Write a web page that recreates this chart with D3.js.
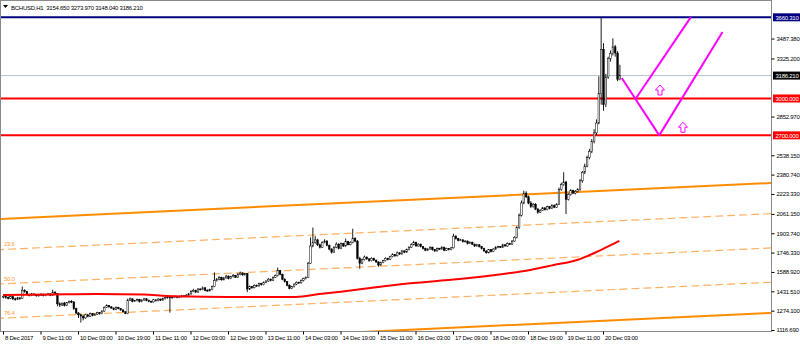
<!DOCTYPE html>
<html>
<head>
<meta charset="utf-8">
<script src="https://cdn.jsdelivr.net/npm/d3@7"></script>
<style>
  body { margin: 0; background: #fff; }
  svg { display: block; font-family: "Liberation Sans", Arial, sans-serif; }
  svg text { letter-spacing: -0.25px; }
</style>
</head>
<body>
<svg id="chart" width="800" height="344"></svg>
<script>
// BCHUSD H1 candles, bar 0 = 8 Dec 19:00 (open of each bar = previous close)
const symbol = 'BCHUSD,H1';
const firstOpen = 1385;
const closes = [1390,1382,1375,1388,1370,1365,1378,1372,
  1440,1430,
  1405,1398,1410,1402,1395,1400,1408,1398,1404,1410,1400,
  1425,1415,
  1330,1320,1335,1318,1340,1350,1345,
  1290,1255,1240,1230,
  1215,1240,1228,1250,1235,1245,1258,1250,
  1270,1300,1315,1305,1295,1285,1300,1290,1280,1265,1250,
  1360,1370,1350,1355,1365,1348,1360,1370,1358,1350,1345,1362,1355,1368,1360,1372,1380,
  1385,1378,1384,1390,1382,1388,1395,1392,1400,
  1410,1430,1440,1425,1450,1445,1460,1440,1435,1445,1470,
  1520,1530,1545,1525,1540,1555,1535,1550,1560,1545,1570,1580,1565,1575,
  1450,1470,1460,1480,1475,1495,1485,1505,1515,
  1530,1520,1545,1560,1600,1570,
  1530,1510,1480,1455,1470,
  1490,1505,1500,1520,1535,1545,
  1660,1800,1830,
  1850,1810,1790,1830,1840,1805,1775,
  1750,1790,1815,1780,1820,1800,1835,1810,1830,
  1860,1840,1700,1660,
  1690,1710,1695,1680,1700,1685,1670,1645,1665,
  1680,1700,1690,1715,1730,1720,1745,1735,1760,1750,1770,
  1790,1810,1830,1800,1815,1795,
  1780,1765,1775,1790,1770,1760,1780,1775,1790,1765,1780,1770,1785,
  1880,
  1860,1845,1850,1835,1840,1820,1830,1815,1800,1810,1795,
  1780,1760,1745,1770,1755,1775,1790,
  1795,1790,1810,1800,1820,1815,1840,1870,
  1950,2050,2150,2230,
  2200,2150,2120,2140,2100,2075,2090,2110,2095,2120,2105,2130,2115,2140,
  2260,2300,2320,
  2180,
  2220,2250,2230,2245,2260,
  2330,2400,2450,2520,2570,
  2650,2720,2800,
  3040,3400,2950,3174,3326,3367,3420,3370,3154.65,3186.21];
const highs = [1402,1396,1390,1398,1392,1380,1386,1385,
  1470,1448,
  1435,1412,1418,1415,1408,1410,1415,1412,1410,1418,1414,
  1445,1432,
  1418,1342,1340,1345,1345,1356,1360,
  1350,1298,1262,1250,
  1238,1248,1245,1258,1255,1252,1265,1262,
  1278,1308,1325,1320,1310,1300,1308,1305,1295,1285,1270,
  1372,1380,1375,1362,1372,1370,1366,1378,1376,1364,1356,1370,1366,1375,1372,1380,1388,
  1392,1390,1392,1398,1394,1395,1402,1400,1408,
  1418,1440,1452,1445,1458,1456,1470,1465,1448,1452,1478,
  1585,1540,1555,1550,1548,1565,1560,1558,1572,1565,1580,1592,1585,1582,
  1580,1478,1475,1488,1486,1502,1500,1512,1522,
  1540,1536,1552,1568,1625,1605,
  1575,1538,1515,1488,1476,
  1496,1512,1510,1528,1542,1552,
  1670,1870,1950,
  1880,1858,1820,1838,1855,1848,1812,
  1782,1798,1830,1822,1828,1826,1860,1842,1838,
  1940,1872,1848,1712,
  1698,1722,1715,1702,1708,1705,1690,1675,1672,
  1688,1708,1705,1722,1740,1735,1755,1750,1768,1765,1778,
  1798,1822,1842,1835,1822,1820,
  1800,1786,1782,1798,1795,1776,1788,1785,1798,1795,1786,1784,1792,
  1900,
  1888,1866,1858,1855,1848,1845,1838,1835,1820,1818,1815,
  1800,1786,1765,1776,1775,1782,1798,
  1802,1800,1818,1815,1828,1825,1848,1878,
  1960,2065,2170,2250,
  2245,2210,2165,2150,2148,2110,2100,2118,2115,2128,2125,2140,2138,2148,
  2275,2315,2400,
  2330,
  2230,2262,2258,2255,2270,
  2345,2410,2470,2535,2590,
  2670,2750,2830,
  3180,3660.31,3450,3200,3340,3390,3489,3435,3385,3273.97];
const lows = [1375,1370,1365,1368,1360,1355,1360,1362,
  1368,1420,
  1398,1390,1392,1396,1388,1390,1395,1390,1392,1398,1392,
  1396,1405,
  1310,1305,1312,1308,1312,1332,1335,
  1280,1245,1215,1177,
  1195,1208,1220,1222,1228,1230,1240,1242,
  1245,1265,1295,1298,1290,1278,1280,1285,1272,1260,1245,
  1245,1352,1342,1345,1350,1340,1342,1355,1350,1342,1338,1340,1348,1350,1352,1355,1365,
  1372,1258,1372,1380,1375,1376,1382,1385,1388,
  1395,1405,1425,1418,1420,1438,1440,1432,1428,1430,1440,
  1465,1510,1522,1518,1520,1535,1528,1530,1545,1540,1540,1562,1558,1560,
  1425,1442,1452,1455,1468,1470,1478,1480,1498,
  1508,1512,1515,1540,1552,1562,
  1522,1502,1472,1448,1450,
  1462,1482,1492,1495,1512,1528,
  1540,1655,1790,
  1820,1800,1780,1785,1822,1798,1765,
  1738,1745,1782,1772,1775,1792,1795,1805,1805,
  1822,1830,1690,1615,
  1652,1682,1688,1672,1675,1678,1662,1632,1640,
  1660,1675,1682,1685,1708,1712,1715,1728,1730,1742,1745,
  1765,1785,1805,1795,1795,1788,
  1772,1758,1760,1770,1762,1752,1755,1768,1770,1758,1760,1764,1765,
  1780,
  1852,1838,1840,1828,1830,1812,1815,1808,1792,1795,1788,
  1772,1752,1737,1740,1748,1750,1770,
  1782,1784,1785,1795,1795,1808,1810,1835,
  1862,1940,2040,2140,
  2190,2140,2110,2112,2092,2063,2068,2085,2088,2090,2098,2100,2108,2110,
  2135,2250,2290,
  2060,
  2170,2210,2222,2220,2235,
  2250,2315,2385,2440,2505,
  2555,2635,2700,
  2790,2950,2900,2930,3160,3300,3350,3340,3140,3148.04];

// red moving average, read at these bars
const maBars   = [0, 20, 40, 60, 70, 80, 100, 110, 125, 135, 145, 160, 175, 190, 210, 225, 235, 245, 255, 263];
const maValues = [1401, 1405, 1409, 1405, 1393, 1389, 1385, 1385, 1385, 1409, 1430, 1466, 1499, 1523, 1564, 1605, 1645, 1686, 1767, 1841];

// time axis: one label every 16 bars
const timeLabels = ['8 Dec 2017', '9 Dec 11:00', '10 Dec 03:00', '10 Dec 19:00', '11 Dec 11:00', '12 Dec 03:00',
  '12 Dec 19:00', '13 Dec 11:00', '14 Dec 03:00', '14 Dec 19:00', '15 Dec 11:00', '16 Dec 03:00',
  '17 Dec 09:00', '18 Dec 03:00', '18 Dec 19:00', '19 Dec 11:00', '20 Dec 03:00'];
const barsPerLabel = 16;

// price axis
const priceTicks = [3487.38, 3325.20, 2852.97, 2538.15, 2380.74, 2223.33, 2061.15, 1903.74,
  1746.33, 1588.92, 1431.51, 1274.10, 1116.69];
const highLevel = 3660.31;
const supportLevels = [3000, 2700];
const lastPrice = 3186.21;

// fibo channel (top edge through two bars, width in price)
const channelBars = [0, 300];
const channelTop = [2021, 2288];
const channelWidth = 1057;
const fiboLevels = [0, 23.6, 50.0, 76.4, 100];

// hand drawn projection lines and arrows: [bar, price]
const projLines = [
  [[264, 3166], [280, 2700]],
  [[270, 3000], [293.5, 3662]],
  [[280, 2700], [307, 3541]]
];
const arrowMarks = [[280.3, 3069], [290.1, 2766]];

const svg = d3.select('#chart');
const plotL = 1, plotR = 771, plotT = 1, plotB = 331;
const fs = 6;

const x = d3.scaleLinear().domain([0, 256]).range([3, 603]);
const y = d3.scaleLinear().domain([1116.69, 3660.31]).range([330, 17.3]);

svg.append('defs').append('clipPath').attr('id', 'plot')
  .append('rect').attr('x', plotL).attr('y', plotT).attr('width', plotR - plotL).attr('height', plotB - plotT);

const g = svg.append('g').attr('clip-path', 'url(#plot)');

// fibo channel
const topAt = (b) => channelTop[0] + (channelTop[1] - channelTop[0]) * (b - channelBars[0]) / (channelBars[1] - channelBars[0]);
const bEnds = [x.invert(plotL - 5), x.invert(plotR + 5)];
fiboLevels.forEach(lv => {
  const solid = (lv === 0 || lv === 100);
  g.append('line')
    .attr('x1', x(bEnds[0])).attr('y1', y(topAt(bEnds[0]) - channelWidth * lv / 100))
    .attr('x2', x(bEnds[1])).attr('y2', y(topAt(bEnds[1]) - channelWidth * lv / 100))
    .attr('stroke', solid ? '#ff8c00' : '#ffb060')
    .attr('stroke-width', solid ? 2 : 1.2)
    .attr('stroke-dasharray', solid ? null : '8,4');
  if (!solid) {
    g.append('text')
      .attr('x', x(0) + 1).attr('y', y(topAt(0) - channelWidth * lv / 100) - 3)
      .attr('font-size', fs).attr('fill', '#ff9a30')
      .text(lv.toFixed(1));
  }
});

// horizontal levels
g.append('line').attr('x1', plotL).attr('x2', plotR).attr('y1', y(lastPrice)).attr('y2', y(lastPrice))
  .attr('stroke', '#b4c0cc').attr('stroke-width', 1);
g.append('line').attr('x1', plotL).attr('x2', plotR).attr('y1', y(highLevel)).attr('y2', y(highLevel))
  .attr('stroke', '#000080').attr('stroke-width', 2);
supportLevels.forEach(p => {
  g.append('line').attr('x1', plotL).attr('x2', plotR).attr('y1', y(p)).attr('y2', y(p))
    .attr('stroke', '#ff0000').attr('stroke-width', 2);
});

// candles
const candles = closes.map((c, i) => ({
  i: i, o: i === 0 ? firstOpen : closes[i - 1], c: c, h: highs[i], l: lows[i]
}));
const cg = g.append('g');
cg.selectAll('line.wick').data(candles).enter().append('line')
  .attr('x1', d => x(d.i) + 0.5).attr('x2', d => x(d.i) + 0.5)
  .attr('y1', d => y(d.h)).attr('y2', d => y(d.l))
  .attr('stroke', '#000').attr('stroke-width', 0.9);
cg.selectAll('rect.body').data(candles).enter().append('rect')
  .attr('x', d => x(d.i) - 0.3).attr('width', 1.6)
  .attr('y', d => y(Math.max(d.o, d.c)))
  .attr('height', d => Math.max(0.8, Math.abs(y(d.o) - y(d.c))))
  .attr('fill', d => d.c >= d.o ? '#fff' : '#000')
  .attr('stroke', '#000').attr('stroke-width', 0.5);

// moving average
const ma = maBars.map((b, i) => [b, maValues[i]]);
g.append('path').datum(ma)
  .attr('d', d3.line().x(d => x(d[0])).y(d => y(d[1])).curve(d3.curveMonotoneX))
  .attr('fill', 'none').attr('stroke', '#ff0000').attr('stroke-width', 2);

// projection lines
projLines.forEach(seg => {
  g.append('path').datum(seg)
    .attr('d', d3.line().x(d => x(d[0])).y(d => y(d[1])))
    .attr('fill', 'none').attr('stroke', '#ff00ff').attr('stroke-width', 2);
});
arrowMarks.forEach(a => {
  g.append('path')
    .attr('transform', `translate(${x(a[0])},${y(a[1])})`)
    .attr('d', 'M0,-5 L4.5,0 L2,0 L2,5 L-2,5 L-2,0 L-4.5,0 Z')
    .attr('fill', '#fff').attr('stroke', '#ff00ff').attr('stroke-width', 1);
});

// frame
svg.append('rect').attr('x', plotL - 0.5).attr('y', plotT - 0.5)
  .attr('width', plotR - plotL + 1).attr('height', plotB - plotT + 1)
  .attr('fill', 'none').attr('stroke', '#8a8a8a').attr('stroke-width', 1);

// right price axis
const yAxis = d3.axisRight(y).tickValues(priceTicks).tickFormat(d3.format('.3f')).tickSize(3).tickPadding(2);
const ya = svg.append('g').attr('transform', `translate(${plotR + 0.5},0)`).call(yAxis);
ya.select('.domain').remove();
ya.selectAll('text').attr('font-size', fs).attr('fill', '#000').attr('font-family', null);
ya.selectAll('line').attr('stroke', '#000');

// highlighted price labels
const tags = [
  { p: highLevel, bg: '#000080' },
  { p: lastPrice, bg: '#000000' },
  { p: supportLevels[0], bg: '#ff0000' },
  { p: supportLevels[1], bg: '#ff0000' }
];
tags.forEach(t => {
  svg.append('rect').attr('x', plotR + 2).attr('y', y(t.p) - 4).attr('width', 800 - plotR - 2).attr('height', 8)
    .attr('fill', t.bg);
  svg.append('text').attr('x', plotR + 4.5).attr('y', y(t.p) + 2.2)
    .attr('font-size', fs).attr('fill', '#fff').text(d3.format('.3f')(t.p));
});

// bottom time axis
const xAxis = d3.axisBottom(x)
  .tickValues(timeLabels.map((d, i) => i * barsPerLabel))
  .tickFormat((d, i) => timeLabels[i]).tickSize(3).tickPadding(1);
const xa = svg.append('g').attr('transform', `translate(0,${plotB + 0.5})`).call(xAxis);
xa.select('.domain').remove();
xa.selectAll('text').attr('text-anchor', 'start').attr('dx', 1.5).attr('font-size', fs)
  .attr('fill', '#000').attr('font-family', null);
xa.selectAll('line').attr('stroke', '#000');

// header
const last = candles[candles.length - 1];
svg.append('path').attr('d', 'M3,5 L8,5 L5.5,8 Z').attr('fill', '#000');
svg.append('text').attr('x', 11).attr('y', 9.5).attr('font-size', fs).attr('fill', '#000')
  .text(symbol + '\u00a0\u00a0' + [last.o, last.h, last.l, last.c].map(d3.format('.3f')).join('\u00a0'));
</script>
</body>
</html>
